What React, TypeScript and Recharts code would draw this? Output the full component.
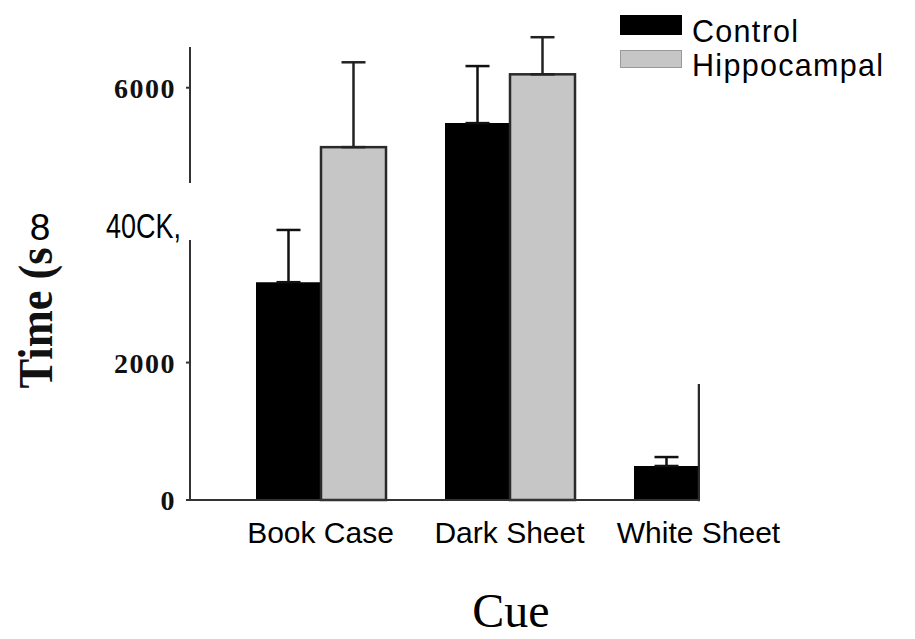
import React from "react";
import * as Recharts from "recharts";
import { BarChart, Bar, XAxis, YAxis, ErrorBar, Legend, Label } from "recharts";

const cues = ["Book Case", "Dark Sheet", "White Sheet"];
const controlTime = [3170, 5485, 495];
const controlErr = [760, 830, 130];
const hippoTime = [5135, 6195, 1670];
const hippoErr = [1235, 540, null];
const yTicks = [0, 2000, 4000, 6000];
const yTickLabels = ["0", "2000", "40CK,", "6000"];

const data = cues.map((cue, i) => ({
  cue,
  control: controlTime[i],
  controlErr: [0, controlErr[i]],
  hippo: hippoTime[i],
  hippoErr: hippoErr[i] == null ? null : [0, hippoErr[i]],
}));

const usePlot: any = (Recharts as any).usePlotArea || (() => null);

// hippocampal bar, cut at the plot's right edge like the scan
const HippoShape = (props: any) => {
  const { x, y, width, height, index } = props;
  const pa = usePlot();
  const id = `hippo-clip-${index}`;
  return (
    <g>
      {pa && (
        <defs>
          <clipPath id={id}>
            <rect x={pa.x - 5} y={pa.y - 50} width={pa.width + 5} height={pa.height + 100} />
          </clipPath>
        </defs>
      )}
      <rect
        x={x}
        y={y}
        width={width}
        height={height}
        fill="#c6c6c6"
        stroke="#2a2a2a"
        strokeWidth={2.5}
        clipPath={pa ? `url(#${id})` : undefined}
      />
    </g>
  );
};

const YTick = (props: any) => {
  const { x, y, payload } = props;
  const idx = yTicks.indexOf(payload.value);
  const label = yTickLabels[idx];
  if (payload.value === 4000) {
    // scanned label, sans and squashed
    return (
      <text
        x={x + 5}
        y={y}
        dy="0.36em"
        textAnchor="end"
        fontFamily="Liberation Sans"
        fontSize={35}
        textLength={75}
        lengthAdjust="spacingAndGlyphs"
        fill="#000"
      >
        {label}
      </text>
    );
  }
  return (
    <g>
      <line x1={x + 10} x2={x + 14} y1={y} y2={y} stroke="#333" strokeWidth={2} />
      <text
        x={x}
        y={y}
        dy="0.36em"
        textAnchor="end"
        fontFamily="Liberation Serif"
        fontWeight="bold"
        fontSize={28}
        letterSpacing={1.5}
        fill="#111"
      >
        {label}
      </text>
    </g>
  );
};

const XTick = (props: any) => {
  const { x, y, payload } = props;
  return (
    <text
      x={x}
      y={y}
      dy="0.71em"
      textAnchor="middle"
      fontFamily="Liberation Sans"
      fontSize={30}
      fill="#000"
    >
      {payload.value}
    </text>
  );
};

const YLabel = () => (
  <g>
    <text
      transform="translate(52,318) rotate(-90)"
      textAnchor="middle"
      fontFamily="Liberation Serif"
      fontWeight="bold"
      fontSize={48}
      textLength={141}
      lengthAdjust="spacingAndGlyphs"
      fill="#111"
    >
      Time (s
    </text>
    <text x={40} y={240} textAnchor="middle" fontFamily="Liberation Sans" fontSize={37} fill="#000">
      8
    </text>
  </g>
);

const XLabel = () => (
  <text x={511} y={627} textAnchor="middle" fontFamily="Liberation Serif" fontSize={48} fill="#000">
    Cue
  </text>
);

const renderLegend = (props: any) => {
  const { payload } = props;
  return (
    <div style={{ fontFamily: "Liberation Sans", fontSize: 30.5, lineHeight: "34px", color: "#000" }}>
      {payload.map((e: any, i: number) => (
        <div key={i} style={{ display: "flex", alignItems: "flex-start", height: 34 }}>
          <div
            style={{
              boxSizing: "border-box",
              width: 62,
              height: i === 0 ? 20 : 18,
              marginTop: i === 0 ? 1 : 2,
              background: i === 0 ? "#000" : "#c6c6c6",
              border: i === 0 ? "none" : "1px solid #999",
              flexShrink: 0,
            }}
          />
          <span style={{ marginLeft: 10, whiteSpace: "nowrap", letterSpacing: 1.3 }}>{e.value}</span>
        </div>
      ))}
    </div>
  );
};

export default function App() {
  return (
    <div style={{ position: "absolute", left: 0, top: 0, width: 915, height: 639, background: "#fff" }}>
      <BarChart
        width={915}
        height={639}
        data={data}
        margin={{ top: 19, right: 215, bottom: 99, left: 100 }}
        barGap={0}
        barSize={65}
      >
        <XAxis
          dataKey="cue"
          height={40}
          padding={{ left: 36, right: -93 }}
          axisLine={{ stroke: "#333", strokeWidth: 2 }}
          tickLine={false}
          tickSize={0}
          tickMargin={22}
          tick={<XTick />}
          interval={0}
        >
          <Label content={<XLabel />} />
        </XAxis>
        <YAxis
          type="number"
          width={90}
          domain={[0, 7000]}
          ticks={yTicks}
          axisLine={{ stroke: "#333", strokeWidth: 2, strokeDasharray: "0 28 136 57 270" }}
          tickLine={false}
          tickSize={4}
          tickMargin={10}
          tick={<YTick />}
        >
          <Label content={<YLabel />} />
        </YAxis>
        <Legend
          layout="vertical"
          align="center"
          verticalAlign="middle"
          content={renderLegend}
          wrapperStyle={{ top: 14, left: 620, width: 295 }}
        />
        <Bar dataKey="control" name="Control" fill="#000" isAnimationActive={false}>
          <ErrorBar dataKey="controlErr" direction="y" width={12} stroke="#111" strokeWidth={2.5} />
        </Bar>
        <Bar
          dataKey="hippo"
          name="Hippocampal"
          fill="#c6c6c6"
          stroke="#2a2a2a"
          strokeWidth={2.5}
          shape={<HippoShape />}
          isAnimationActive={false}
        >
          <ErrorBar dataKey="hippoErr" direction="y" width={12} stroke="#222" strokeWidth={2.5} />
        </Bar>
      </BarChart>
    </div>
  );
}
